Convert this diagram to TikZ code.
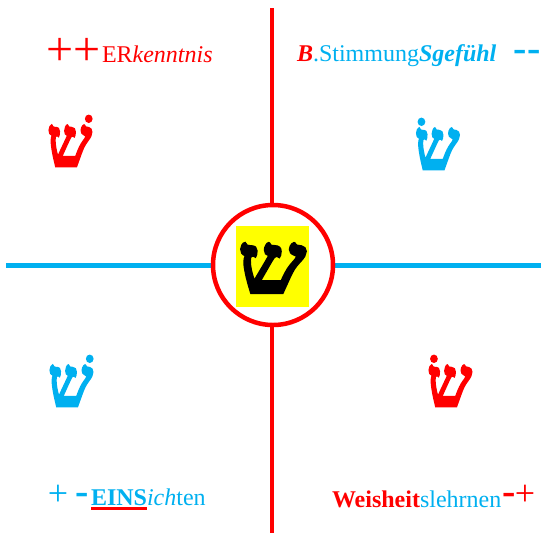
\documentclass[tikz,border=0pt]{standalone}
\usepackage{fontspec}
\setmainfont{Liberation Serif}
\newfontfamily\hebfont[Script=Hebrew, BoldFeatures={FakeBold=2.5}]{Liberation Serif}
\TeXXeTstate=1
\definecolor{myred}{RGB}{255,0,0}
\definecolor{myblue}{RGB}{0,176,240}
\definecolor{myyellow}{RGB}{255,255,0}
\begin{document}
\begin{tikzpicture}[x=1pt,y=-1pt,
  lbl/.style={inner sep=0pt, outer sep=0pt, anchor=base west, font=\fontsize{24}{28}\selectfont},
  bigplus/.style={inner sep=0pt, outer sep=0pt, font=\fontsize{48}{52}\selectfont},
  smallplus/.style={inner sep=0pt, outer sep=0pt, font=\fontsize{36}{40}\selectfont},
  dashsign/.style={inner sep=0pt, outer sep=0pt, font=\fontsize{40}{46}\selectfont\bfseries},
  shin/.style={inner sep=0pt, outer sep=0pt, font=\hebfont\bfseries\fontsize{64}{70}\selectfont},
  axisline/.style={line width=#1}
]
\useasboundingbox (0,0) rectangle (545,533);
% axes
\coordinate (vtop) at (272,8);
\coordinate (vbot) at (272,533);
\coordinate (hleft) at (6,265);
\coordinate (hright) at (541,265);
\draw[myred, axisline=4] (vtop) -- (vbot);
\draw[myblue, axisline=5] (hleft) -- (hright);
% center
\node[circle, draw=myred, line width=4.5, fill=white, minimum size=120, inner sep=0] (ring) at (273,265) {};
\node[fill=myyellow, minimum width=73, minimum height=81, inner sep=0] (sq) at (272.5,266.5) {};
\node[inner sep=0, font=\hebfont\bfseries\fontsize{72}{76}\selectfont] (cshin) at (272,268) {\scalebox{1.35}[1.18]{\beginR ש\endR}};
% corner shins
\node[shin, text=myred] (s1) at (69.5,141) {\scalebox{1}[1.1]{\beginR שׁ\endR}};
\node[shin, text=myblue] (s2) at (437,144) {\scalebox{1}[1.1]{\beginR שׂ\endR}};
\node[shin, text=myblue] (s3) at (70.5,381) {\scalebox{1}[1.1]{\beginR שׁ\endR}};
\node[shin, text=myred] (s4) at (449.5,381) {\scalebox{1}[1.1]{\beginR שׂ\endR}};
% top left
\node[bigplus, text=myred] (pp) at (73.5,52) {++};
\node[lbl, text=myred] (t1) at (102,62) {ER\textit{kenntnis}};
% top right
\node[lbl, text=myblue] (t2) at (297,61) {\textcolor{myred}{\bfseries\itshape B}.Stimmung\textbf{\textit{Sgefühl}}};
\node[dashsign, text=myblue] (mm) at (527,56) {-{}-};
% bottom left
\node[smallplus, text=myblue] (bp) at (58,495) {+};
\node[dashsign, text=myblue] (bm) at (82.5,499) {-};
\node[lbl, text=myblue] (eins) at (91,505) {\bfseries EINS};
\node[lbl, text=myblue] (ichten) at (eins.base east) {\itshape ich\upshape ten};
\draw[myred, line width=3] ([yshift=-3.5pt]eins.base west) -- ([yshift=-3.5pt]eins.base east);
% bottom right
\node[lbl, text=myred] (weis) at (332,507) {\bfseries Weisheit};
\node[lbl, text=myblue] (lehr) at (weis.base east) {slehrnen};
\node[dashsign, text=myred] (rm) at (509.5,499) {-};
\node[smallplus, text=myred] (rp) at (525,495) {+};
\end{tikzpicture}
\end{document}
